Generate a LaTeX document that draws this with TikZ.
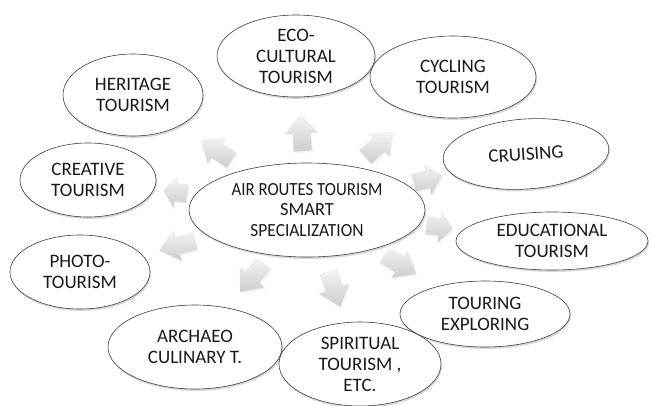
\documentclass[tikz,border=0pt]{standalone}
\usepackage{fontspec}
\setmainfont{Carlito}
\usepackage{graphicx}
\usetikzlibrary{shapes.geometric, shadows, calc}
\definecolor{BubbleLine}{RGB}{60,60,60}
\definecolor{BubbleText}{RGB}{25,25,25}
\definecolor{ArrowLight}{RGB}{244,244,244}
\definecolor{ArrowDark}{RGB}{205,205,205}

\begin{document}
\begin{tikzpicture}[x=1pt, y=-1pt,
    bubble/.style={shape=ellipse, draw=BubbleLine, line width=0.6pt, fill=white,
        text=BubbleText, align=center, inner sep=-1pt,
        font=\fontsize{19}{21}\selectfont,
        drop shadow={shadow xshift=1pt, shadow yshift=-2pt, opacity=0.3}},
    fatarrow/.pic={
        \path[top color=ArrowLight, bottom color=ArrowDark,
              drop shadow={shadow xshift=1pt, shadow yshift=-1.5pt, opacity=0.12}]
            (-18,-9) -- (0,-9) -- (0,-16) -- (19,0) -- (0,16) -- (0,9) -- (-18,9) -- cycle;
    }]
    \useasboundingbox (0,0) rectangle (651,405);

    \node[bubble, minimum width=236pt, minimum height=94pt, font=\fontsize{18.5}{20.5}\selectfont] (hub) at (307,210)
        {\scalebox{0.91}[1]{AIR ROUTES TOURISM}\\SMART\\\scalebox{0.94}[1]{SPECIALIZATION}};

    \node[bubble, minimum width=158pt, minimum height=82pt] (eco) at (296,56)  {ECO-\\CULTURAL\\TOURISM};
    \node[bubble, minimum width=166pt, minimum height=82pt] (cyc) at (453,77)  {CYCLING\\TOURISM};
    \node[bubble, minimum width=140pt, minimum height=82pt] (her) at (133,95)  {HERITAGE\\TOURISM};
    \node[bubble, minimum width=166pt, minimum height=70pt, rotate=4] (cru) at (526,154) {CRUISING};
    \node[bubble, minimum width=192pt, minimum height=58pt] (edu) at (552,241) {EDUCATIONAL\\TOURISM};
    \node[bubble, minimum width=136pt, minimum height=74pt] (cre) at (88,180)  {CREATIVE\\TOURISM};
    \node[bubble, minimum width=140pt, minimum height=74pt] (pho) at (80,272)  {PHOTO-\\TOURISM};
    \node[bubble, minimum width=170pt, minimum height=66pt] (tou) at (485,314) {TOURING\\EXPLORING};
    \node[bubble, minimum width=174pt, minimum height=84pt] (arc) at (195,347) {ARCHAEO\\CULINARY T.};
    \node[bubble, minimum width=162pt, minimum height=84pt] (spi) at (360,364) {SPIRITUAL\\TOURISM ,\\ETC.};

    % fat arrows from the hub towards every bubble
    \foreach \t/\f/\s in {eco/0.5/1, cyc/0.49/1, cru/0.55/0.8, edu/0.54/0.72, tou/0.52/1,
                          spi/0.51/1, arc/0.49/1, pho/0.57/1, cre/0.6/0.65, her/0.52/1}
        \path let \p1 = ($(\t.center)-(hub.center)$), \n1 = {atan2(\y1,\x1)} in
            ($(hub.center)!\f!(\t.center)$) pic[rotate=\n1, xscale=\s] {fatarrow};
\end{tikzpicture}
\end{document}
